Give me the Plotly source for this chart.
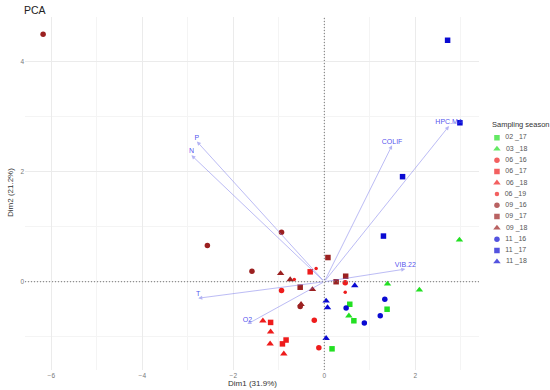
import plotly.graph_objects as go

# ---- data -------------------------------------------------------------
seasons = ["02 _17", "03 _18", "06 _16", "06 _17", "06 _18", "06 _19",
           "09 _16", "09 _17", "09 _18", "11 _16", "11 _17", "11 _18"]

x_02_17 = [0.17, 0.56, 1.38, 0.65]
y_02_17 = [-1.22, -0.41, -0.50, -0.71]
x_03_18 = [1.39, 2.09, 2.97, 0.54]
y_03_18 = [-0.04, -0.15, 0.76, -0.62]
x_06_16 = [-0.94, -0.22, -0.12, 0.46]
y_06_16 = [-0.16, -0.70, -1.20, -0.02]
x_06_17 = [-0.31, -1.18, -0.84, -0.92]
y_06_17 = [0.18, -0.74, -1.06, -1.13]
x_06_18 = [-1.35, -1.18, -1.19, -0.89]
y_06_18 = [-0.71, -0.91, -1.13, -1.31]
x_06_19 = [-0.18, -0.66, 0.46]
y_06_19 = [0.24, 0.04, -0.19]
x_09_16 = [-6.18, -2.57, -1.59, -0.94, -0.53]
y_09_16 = [4.50, 0.66, 0.19, 0.90, -0.45]
x_09_17 = [0.08, 0.26, -0.53, 0.47]
y_09_17 = [0.44, 0.00, -0.10, 0.10]
x_09_18 = [-0.96, -0.75, -0.26, -0.51]
y_09_18 = [0.15, 0.04, -0.14, -0.41]
x_11_16 = [1.33, 0.48, 1.23, 0.88]
y_11_16 = [-0.32, -0.48, -0.62, -0.75]
x_11_17 = [2.71, 2.98, 1.72, 1.30]
y_11_17 = [4.39, 2.89, 1.91, 0.83]
x_11_18 = [0.67, 0.04, 0.07, 0.04]
y_11_18 = [-0.07, -0.35, -0.47, -1.03]

var_names = ["P", "N", "HPC.MA", "COLIF", "VIB.22", "T", "O2"]
var_x = [-2.80, -2.92, 2.74, 1.49, 1.78, -2.77, -1.69]
var_y = [2.55, 2.30, 2.83, 2.48, 0.23, -0.30, -0.77]

x_ticks = [-6, -4, -2, 0, 2]
y_ticks = [0, 2, 4]

# ---- styles -----------------------------------------------------------
GREEN = "#22e022"
RED = "#ee1c1c"
DARKRED = "#9b2020"
BLUE = "#0a0ad2"
styles = {
    "02 _17": (GREEN, "square", 5.5),
    "03 _18": (GREEN, "triangle-up", 6.5),
    "06 _16": (RED, "circle", 5.5),
    "06 _17": (RED, "square", 5.5),
    "06 _18": (RED, "triangle-up", 6.5),
    "06 _19": (RED, "circle", 3.5),
    "09 _16": (DARKRED, "circle", 5.5),
    "09 _17": (DARKRED, "square", 5.5),
    "09 _18": (DARKRED, "triangle-up", 6.5),
    "11 _16": (BLUE, "circle", 5.5),
    "11 _17": (BLUE, "square", 5.5),
    "11 _18": (BLUE, "triangle-up", 6.5),
}
series = {
    "02 _17": (x_02_17, y_02_17), "03 _18": (x_03_18, y_03_18),
    "06 _16": (x_06_16, y_06_16), "06 _17": (x_06_17, y_06_17),
    "06 _18": (x_06_18, y_06_18), "06 _19": (x_06_19, y_06_19),
    "09 _16": (x_09_16, y_09_16), "09 _17": (x_09_17, y_09_17),
    "09 _18": (x_09_18, y_09_18), "11 _16": (x_11_16, y_11_16),
    "11 _17": (x_11_17, y_11_17), "11 _18": (x_11_18, y_11_18),
}

FONT = "Liberation Sans, Arial, sans-serif"
ARROW_COL = "rgba(120,120,235,0.55)"
VTEXT_COL = "rgba(60,60,235,0.9)"

# pixel geometry helpers (layout only)
W, H = 550, 390
ML, MR, MT, MB = 25, 5, 17, 20
PW, PH = W - ML - MR, H - MT - MB
XDOM_END = (479 - ML) / PW


def px2paper_x(px):
    return (px - ML) / PW


def py2paper_y(py):
    return (H - MB - py) / PH


fig = go.Figure()

# arrows (variables)
for name, vx, vy in zip(var_names, var_x, var_y):
    fig.add_annotation(x=vx, y=vy, ax=0, ay=0, xref="x", yref="y",
                       axref="x", ayref="y", text="", showarrow=True,
                       arrowhead=2, arrowsize=0.9, arrowwidth=0.9,
                       arrowcolor=ARROW_COL)

# individuals
for s in seasons:
    col, sym, size = styles[s]
    xs, ys = series[s]
    fig.add_trace(go.Scatter(x=xs, y=ys, mode="markers", name=s,
                             marker=dict(color=col, symbol=sym, size=size,
                                         line=dict(width=0)),
                             showlegend=False, xaxis="x", yaxis="y"))

# variable labels
fig.add_trace(go.Scatter(x=var_x, y=var_y, mode="text", text=var_names,
                         textposition="top center",
                         textfont=dict(color=VTEXT_COL, size=7, family=FONT),
                         showlegend=False, xaxis="x", yaxis="y"))

# manual legend on an auxiliary axis
leg_idx = list(range(len(seasons)))
fig.add_trace(go.Scatter(
    x=[0.23] * len(seasons), y=leg_idx, mode="markers+text",
    text=["  " + s for s in seasons], textposition="middle right",
    textfont=dict(size=7, color="#555555", family=FONT),
    marker=dict(color=[styles[s][0] for s in seasons],
                symbol=[styles[s][1] for s in seasons],
                size=[styles[s][2] + (1 if styles[s][2] < 4 else 0) for s in seasons],
                line=dict(width=0)),
    showlegend=False, xaxis="x2", yaxis="y2", hoverinfo="skip"))
fig.add_annotation(x=px2paper_x(491), y=py2paper_y(125), xref="paper", yref="paper",
                   text="Sampling season", showarrow=False, xanchor="left",
                   yanchor="middle", borderpad=0,
                   font=dict(size=7.5, color="#333333", family=FONT))

# title and axis titles
fig.add_annotation(x=px2paper_x(22), y=py2paper_y(10), xref="paper", yref="paper",
                   text="PCA", showarrow=False, xanchor="left", yanchor="middle",
                   font=dict(size=10.5, color="#222222", family=FONT))
fig.add_annotation(x=XDOM_END / 2, y=py2paper_y(383), xref="paper", yref="paper",
                   text="Dim1 (31.9%)", showarrow=False, xanchor="center",
                   yanchor="middle", font=dict(size=8, color="#333333", family=FONT))
fig.add_annotation(x=px2paper_x(10), y=py2paper_y(193), xref="paper", yref="paper",
                   text="Dim2 (21.2%)", showarrow=False, textangle=-90,
                   xanchor="center", yanchor="middle",
                   font=dict(size=8, color="#333333", family=FONT))

# zero lines
fig.add_shape(type="line", xref="x", yref="paper", x0=0, x1=0, y0=0, y1=1,
              line=dict(color="#777777", width=1, dash="1px,2px"))
fig.add_shape(type="line", xref="paper", yref="y", x0=0, x1=XDOM_END, y0=0, y1=0,
              line=dict(color="#777777", width=1, dash="1px,2px"))

grid_major = "#ebebeb"
grid_minor = "#f4f4f4"
fig.update_layout(
    width=W, height=H,
    margin=dict(l=ML, r=MR, t=MT, b=MB, autoexpand=False),
    paper_bgcolor="white", plot_bgcolor="white",
    font=dict(family=FONT, color="#444444"),
    xaxis=dict(domain=[0, XDOM_END], range=[-6.578, 3.40], tickvals=x_ticks,
               showgrid=True, gridcolor=grid_major, gridwidth=1,
               minor=dict(dtick=1, showgrid=True, gridcolor=grid_minor, gridwidth=0.6),
               zeroline=False, showline=False, ticks="", automargin=False,
               tickfont=dict(size=6.5, color="#777777"), ticklabelstandoff=0),
    yaxis=dict(domain=[0, 1], range=[-1.605, 4.813], tickvals=y_ticks,
               showgrid=True, gridcolor=grid_major, gridwidth=1,
               minor=dict(dtick=1, showgrid=True, gridcolor=grid_minor, gridwidth=0.6),
               zeroline=False, showline=False, ticks="", automargin=False,
               tickfont=dict(size=6.5, color="#777777")),
    xaxis2=dict(domain=[0.88, 1.0], range=[0, 1], visible=False, fixedrange=True),
    yaxis2=dict(domain=[0, 1], range=[20.61, -10.71], visible=False, fixedrange=True,
                anchor="x2"),
)

fig.write_html("out.html", config={"displayModeBar": False},
               post_script="document.body.style.margin='0px';"
                           "document.body.style.overflow='hidden';")
